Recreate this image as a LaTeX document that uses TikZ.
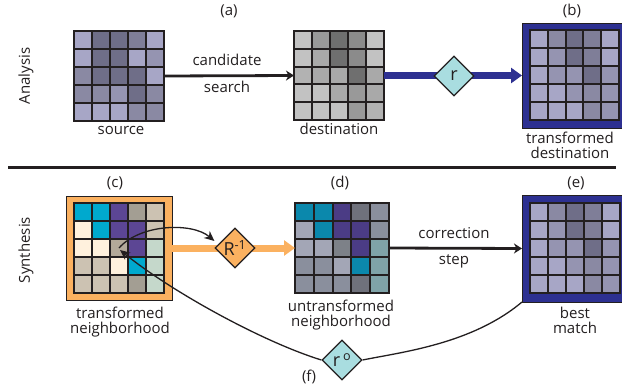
\documentclass[tikz,border=0pt]{standalone}
\usepackage{fontspec}
\setmainfont{Open Sans}
\usetikzlibrary{arrows.meta,shapes.geometric}

% ink and frame colours
\definecolor{ink}{HTML}{231F20}
\definecolor{navy}{HTML}{2D3091}
\definecolor{apricot}{HTML}{FBB160}
\definecolor{aqua}{HTML}{A9DDE0}
% lavender-grey cells
\definecolor{pA}{HTML}{A7A6C6}
\definecolor{pB}{HTML}{9594B1}
\definecolor{pC}{HTML}{8A89A3}
\definecolor{pD}{HTML}{7F7E98}
\definecolor{pE}{HTML}{6F6E88}
% grey cells
\definecolor{gA}{HTML}{C2C2C2}
\definecolor{gB}{HTML}{B2B2B2}
\definecolor{gC}{HTML}{A9A9A9}
\definecolor{gD}{HTML}{999999}
\definecolor{gE}{HTML}{8B8B8B}
\definecolor{gF}{HTML}{6F6F6F}
% neighbourhood cells
\definecolor{cC}{HTML}{00A9CE}
\definecolor{cP}{HTML}{5C4694}
\definecolor{cT}{HTML}{A39E93}
\definecolor{cM}{HTML}{B3A999}
\definecolor{cB}{HTML}{CCC2B2}
\definecolor{cW}{HTML}{FFF1DD}
\definecolor{cG}{HTML}{C5D8CB}
% untransformed neighbourhood cells
\definecolor{dT}{HTML}{0B88AC}
\definecolor{dP}{HTML}{4B3C85}
\definecolor{dG}{HTML}{6F717B}
\definecolor{dH}{HTML}{8A8F9D}
\definecolor{dL}{HTML}{A3A6B6}
\definecolor{dM}{HTML}{7D8188}
\definecolor{dQ}{HTML}{7FA3A8}

% 5x5 cell panel: name, left, top, width, height, colours (row by row)
\newcommand{\cellpanel}[6]{%
  \foreach \c [count=\i from 0] in {#6}{%
    \pgfmathtruncatemacro{\cellcol}{mod(\i,5)}%
    \pgfmathtruncatemacro{\cellrow}{div(\i,5)}%
    \fill[\c] ({#2+\cellcol*#4/5},{#3+\cellrow*#5/5}) rectangle ++({#4/5},{#5/5});%
  }%
  \foreach \k in {1,2,3,4}{%
    \draw[cellline] ({#2+\k*#4/5},#3) -- ++(0,#5);%
    \draw[cellline] (#2,{#3+\k*#5/5}) -- ++(#4,0);%
  }%
  \node[gridbox,minimum width=#4pt,minimum height=#5pt,anchor=north west] (#1) at (#2,#3) {};%
}

\begin{document}
\begin{tikzpicture}[x=1pt,y=-1pt,
  cellline/.style={draw=ink,line width=1.9pt},
  gridbox/.style={draw=ink,line width=2.6pt,inner sep=0pt,outer sep=0pt},
  bframe/.style={fill=navy,draw=ink,line width=0.6pt,inner sep=0pt,outer sep=0pt,anchor=north west},
  oframe/.style={fill=apricot,draw=ink,line width=0.6pt,inner sep=0pt,outer sep=0pt,anchor=north west},
  lbl/.style={font=\fontsize{15}{16}\selectfont,inner sep=0pt,anchor=base,text=ink},
  op/.style={diamond,shape aspect=1,draw=ink,line width=1.2pt,inner sep=0pt,
    minimum width=40pt,minimum height=40pt,font=\fontsize{18}{18}\selectfont,text=ink},
  stepline/.style={draw=ink,line width=2.8pt,-{Stealth[length=8pt,width=10pt,inset=2.5pt]}},
  fatarrow/.style={line width=7pt,-{Triangle[length=11pt,width=15pt]}},
  thin/.style={draw=ink,line width=1.3pt},
  thinarrow/.style={thin,-{Stealth[length=10pt,width=9pt,inset=3pt]}}]
\useasboundingbox (0,0) rectangle (622,388);

% ---- analysis row ----
\cellpanel{src}{74}{31}{90}{90}{pA,pE,pE,pD,pA, pA,pE,pE,pA,pB, pC,pE,pE,pE,pA, pC,pC,pB,pE,pC, pA,pA,pA,pC,pC}
\cellpanel{dst}{294}{31}{90}{89}{gA,gD,gF,gE,gA, gA,gC,gF,gE,gA, gB,gC,gC,gF,gC, gA,gA,gC,gD,gC, gA,gA,gA,gD,gB}
\node[bframe,minimum width=106pt,minimum height=105pt] (tdstF) at (522,23) {};
\cellpanel{tdst}{530}{30}{89}{90}{pA,pC,pE,pD,pA, pA,pB,pE,pD,pA, pA,pB,pB,pE,pB, pA,pA,pB,pC,pB, pA,pA,pA,pC,pB}

\draw[stepline] (src.east) -- (dst.west);
\draw[fatarrow,navy] (dst.east) -- (tdstF.west);
\node[op,fill=aqua] (r) at (454,76) {r};

\node[lbl] (la) at (229,16) {(a)};
\node[lbl] (lb) at (572,16) {(b)};
\node[lbl] (cand) at (227,65) {candidate};
\node[lbl] (srch) at (227,92) {search};
\node[lbl] (lsrc) at (121,134) {source};
\node[lbl] (ldst) at (339,134) {destination};
\node[lbl] (ltd1) at (570,143) {transformed};
\node[lbl] (ltd2) at (570,158) {destination};
\node[lbl,rotate=90] (ana) at (30,76) {Analysis};

% ---- separator ----
\draw[ink,line width=3pt] (8,167) -- (616,167);

% ---- synthesis row ----
\node[oframe,minimum width=106pt,minimum height=104pt] (tnbF) at (66,196) {};
\cellpanel{tnb}{74}{203}{90}{90}{cC,cC,cP,cT,cB, cW,cC,cP,cP,cB, cW,cW,cM,cP,cG, cB,cB,cW,cC,cG, cB,cB,cB,cT,cG}
\cellpanel{unb}{295}{203}{94}{90}{dT,dT,dP,dG,dH, dL,dT,dP,dP,dH, dL,dL,dM,dP,dQ, dH,dH,dL,dT,dQ, dH,dH,dH,dG,dQ}
\node[bframe,minimum width=106pt,minimum height=107pt] (bestF) at (522,195) {};
\cellpanel{best}{530}{203}{90}{90}{pA,pC,pE,pD,pA, pA,pB,pE,pD,pA, pA,pB,pB,pE,pB, pA,pA,pB,pC,pB, pA,pA,pA,pC,pB}

\draw[fatarrow,apricot] (tnbF.east) -- (unb.west);
\node[op,fill=apricot] (Rinv) at (235,248) {R\textsuperscript{-1}};
\draw[stepline] (unb.east) -- (bestF.west);

\node[op,fill=aqua] (ro) at (342,360) {r\,\textsuperscript{o}};

% transform loop
\draw[thinarrow] (tnb.center) .. controls (140,224) and (192,222) .. ([yshift=7pt]Rinv.west);
\draw[thin] (bestF.south west) .. controls (472,344) and (402,352) .. (ro.east);
\draw[thinarrow] (ro.west) .. controls (263,342) and (172,292) .. ([xshift=1pt,yshift=-2pt]tnb.center);

\node[lbl] (lc) at (115,187) {(c)};
\node[lbl] (ld) at (340,187) {(d)};
\node[lbl] (le) at (576,187) {(e)};
\node[lbl] (lf) at (309,381) {(f)};
\node[lbl] (corr) at (454,238) {correction};
\node[lbl] (stp) at (454,264) {step};
\node[lbl] (ltn1) at (120,318) {transformed};
\node[lbl] (ltn2) at (120,333) {neighborhood};
\node[lbl] (lun1) at (341,311) {untransformed};
\node[lbl] (lun2) at (341,326) {neighborhood};
\node[lbl] (lbm1) at (575,318) {best};
\node[lbl] (lbm2) at (575,333) {match};
\node[lbl,rotate=90] (syn) at (30,250) {Synthesis};
\end{tikzpicture}
\end{document}
